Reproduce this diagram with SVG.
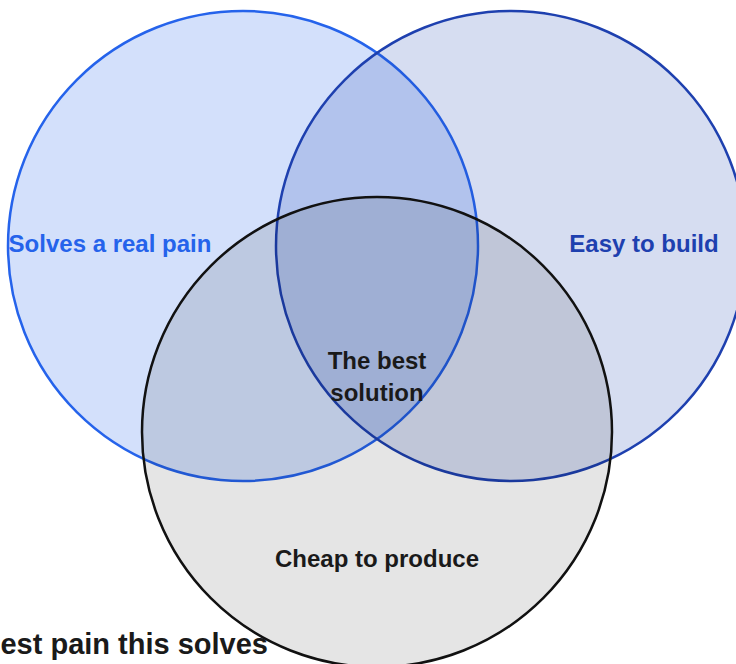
<svg xmlns="http://www.w3.org/2000/svg" width="736" height="664" viewBox="0 0 736 664">
<style>
  .lbl { font-family: "Liberation Sans", Arial, sans-serif; font-weight: bold; font-size: 24px; text-anchor: middle; }
  .ring { stroke-width: 2.5; }
</style>
<rect width="736" height="664" fill="#ffffff"/>
<g id="circle-pain">
  <circle class="ring" cx="243" cy="246" r="235" fill="#2563eb" fill-opacity="0.2" stroke="#2563eb"/>
</g>
<g id="circle-build">
  <circle class="ring" cx="511" cy="246" r="235" fill="#1e40af" fill-opacity="0.18" stroke="#1e40af"/>
</g>
<g id="circle-cheap">
  <circle class="ring" cx="377" cy="432" r="235" fill="#000000" fill-opacity="0.1" stroke="#111111"/>
</g>
<g id="labels">
  <text class="lbl" x="110" y="252" fill="#2563eb">Solves a real pain</text>
  <text class="lbl" x="644" y="252" fill="#1e40af">Easy to build</text>
  <text class="lbl" x="377" y="369" fill="#1a1a1a">The best</text>
  <text class="lbl" x="377" y="401" fill="#1a1a1a">solution</text>
  <text class="lbl" x="377" y="567" fill="#1a1a1a">Cheap to produce</text>
  <text class="lbl" x="268" y="654" fill="#1a1a1a" style="text-anchor:end;font-size:29px">est pain this solves</text>
</g>
</svg>
